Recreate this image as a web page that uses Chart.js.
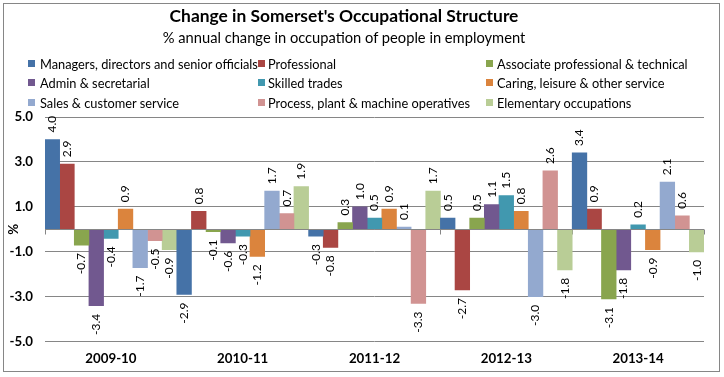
<!DOCTYPE html>
<html>
<head>
<meta charset="utf-8">
<script src="https://cdn.jsdelivr.net/npm/chart.js@4.4.1/dist/chart.umd.min.js"></script>
<style>
  html, body { margin: 0; padding: 0; background: #ffffff; }
  #wrap { position: relative; width: 724px; height: 377px; overflow: hidden; font-family: Lato, "Noto Sans", sans-serif; color: #000; }
  #chart { position: absolute; left: 0; top: 0; }
  #frame { position: absolute; left: 3px; top: 3px; width: 717px; height: 369px; box-sizing: border-box; border: 1px solid #868686; pointer-events: none; }
  .ttl { position: absolute; left: 0; width: 688px; text-align: center; white-space: nowrap; }
  #title { top: 6px; font-size: 17.4px; font-weight: bold; line-height: 20px; }
  #subtitle { top: 27px; font-size: 14.7px; line-height: 20px; }
  .lg { position: absolute; height: 20px; line-height: 20px; font-size: 12.8px; white-space: nowrap; }
  .lg i { position: absolute; width: 7px; height: 7px; top: 6.5px; }
  .lg span { position: absolute; top: 0; }
</style>
</head>
<body>
<div id="wrap">
  <canvas id="chart" width="724" height="377"></canvas>
  <div id="title" class="ttl">Change in Somerset's Occupational Structure</div>
  <div id="subtitle" class="ttl">% annual change in occupation of people in employment</div>
  <div id="legend"></div>
  <div id="frame"></div>
</div>
<script>
// ---- data ----
const categories = ['2009-10', '2010-11', '2011-12', '2012-13', '2013-14'];
const seriesNames = [
  'Managers, directors and senior officials',
  'Professional',
  'Associate professional & technical',
  'Admin & secretarial',
  'Skilled trades',
  'Caring, leisure & other service',
  'Sales & customer service',
  'Process, plant & machine operatives',
  'Elementary occupations'
];
const managers     = [4.0, -2.9, -0.3,  0.5,  3.4];
const professional = [2.9,  0.8, -0.8, -2.7,  0.9];
const associate    = [-0.7, -0.1, 0.3,  0.5, -3.1];
const admin        = [-3.4, -0.6, 1.0,  1.1, -1.8];
const skilled      = [-0.4, -0.3, 0.5,  1.5,  0.2];
const caring       = [0.9, -1.2,  0.9,  0.8, -0.9];
const sales        = [-1.7, 1.7,  0.1, -3.0,  2.1];
const processPlant = [-0.5, 0.7, -3.3,  2.6,  0.6];
const elementary   = [-0.9, 1.9,  1.7, -1.8, -1.0];
const yTicks = [-5, -3, -1, 1, 3, 5];
const yTitle = '%';

// ---- styles ----
const colors = ['#4572A7', '#AA4643', '#89A54E', '#71588F', '#4198AF', '#DB843D', '#93A9CF', '#D19392', '#B9CD96'];
const seriesValues = [managers, professional, associate, admin, skilled, caring, sales, processPlant, elementary];
const FONT = 'Lato, "Noto Sans", sans-serif';
const GRID = '#868686';

// ---- legend (3 columns x 3 rows) ----
const legendCols = [{m: 28, t: 40}, {m: 258, t: 268}, {m: 486, t: 497}];
const legendRows = [53.5, 72.5, 92.5];
const legendEl = document.getElementById('legend');
seriesNames.forEach((name, i) => {
  const c = legendCols[i % 3], r = legendRows[Math.floor(i / 3)];
  const d = document.createElement('div');
  d.className = 'lg';
  d.style.left = '0px';
  d.style.top = r + 'px';
  const m = document.createElement('i');
  m.style.left = c.m + 'px';
  m.style.background = colors[i];
  const s = document.createElement('span');
  s.style.left = c.t + 'px';
  s.textContent = name;
  d.appendChild(m); d.appendChild(s);
  legendEl.appendChild(d);
});

// ---- plugins ----
const axisExtras = {
  id: 'axisExtras',
  beforeDatasetsDraw(chart) {
    const {ctx, scales: {x, y}} = chart;
    const y0 = Math.round(y.getPixelForValue(0)) + 0.5;
    const half = (x.getPixelForValue(1) - x.getPixelForValue(0)) / 2;
    ctx.save();
    ctx.strokeStyle = GRID;
    ctx.lineWidth = 1;
    ctx.beginPath();
    for (let i = 0; i <= categories.length; i++) {
      const px = Math.round(i === categories.length
        ? x.getPixelForValue(i - 1) + half
        : x.getPixelForValue(i) - half) + 0.5;
      ctx.moveTo(px, y0);
      ctx.lineTo(px, y0 + 5);
    }
    ctx.stroke();
    ctx.restore();
  },
  afterDatasetsDraw(chart) {
    const {ctx, chartArea, scales: {y}} = chart;
    const y0 = Math.round(y.getPixelForValue(0)) + 0.5;
    ctx.save();
    ctx.strokeStyle = GRID;
    ctx.lineWidth = 1;
    ctx.beginPath();
    ctx.moveTo(chartArea.left, y0);
    ctx.lineTo(chartArea.right, y0);
    ctx.stroke();
    // data labels, rotated
    ctx.fillStyle = '#000';
    ctx.font = '12px ' + FONT;
    ctx.textBaseline = 'middle';
    chart.data.datasets.forEach((ds, di) => {
      const meta = chart.getDatasetMeta(di);
      meta.data.forEach((el, i) => {
        const v = ds.data[i];
        ctx.save();
        if (v >= 0) {
          ctx.translate(el.x, el.y - 7);
          ctx.rotate(-Math.PI / 2);
          ctx.textAlign = 'left';
        } else {
          ctx.translate(el.x, el.y + 8);
          ctx.rotate(-Math.PI / 2);
          ctx.textAlign = 'right';
        }
        ctx.fillText(v.toFixed(1), 0, 0);
        ctx.restore();
      });
    });
    ctx.restore();
  }
};

// ---- chart ----
new Chart(document.getElementById('chart').getContext('2d'), {
  type: 'bar',
  data: {
    labels: categories,
    datasets: seriesNames.map((name, i) => ({
      label: name,
      data: seriesValues[i],
      backgroundColor: colors[i],
      borderWidth: 0,
      categoryPercentage: 1,
      barPercentage: 1
    }))
  },
  options: {
    responsive: false,
    animation: false,
    devicePixelRatio: 1,
    layout: { padding: { left: 0, right: 20, top: 117, bottom: 0 } },
    plugins: { legend: { display: false }, title: { display: false }, tooltip: { enabled: false } },
    scales: {
      x: {
        grid: { display: false, drawTicks: false },
        border: { display: false },
        ticks: { font: { family: FONT, size: 13.3, weight: 'bold' }, color: '#000', padding: 9, maxRotation: 0 },
        afterFit(s) { s.height = 35.3; }
      },
      y: {
        min: -5, max: 5,
        afterBuildTicks(s) { s.ticks = yTicks.map(v => ({ value: v })); },
        ticks: { callback: v => Number(v).toFixed(1), font: { family: FONT, size: 13.3, weight: 'bold' }, color: '#000', padding: 12 },
        grid: { color: GRID, drawTicks: false },
        border: { display: false },
        title: { display: true, text: yTitle, font: { family: FONT, size: 13.3, weight: 'bold' }, color: '#000', padding: { top: 6, bottom: 0 } },
        afterFit(s) { s.width = 45; }
      }
    }
  },
  plugins: [axisExtras]
});
</script>
</body>
</html>
